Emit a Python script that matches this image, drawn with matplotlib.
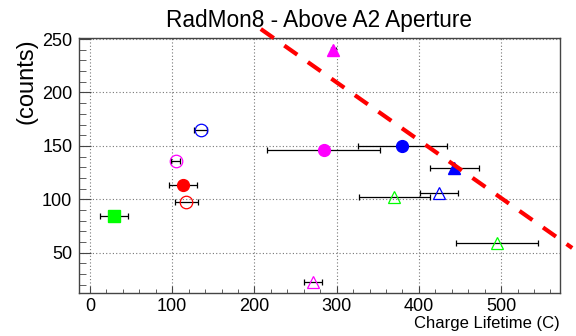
import numpy as np
import matplotlib
matplotlib.use('Agg')
import matplotlib.pyplot as plt
from matplotlib.ticker import MultipleLocator

plt.rcParams['font.family'] = ['Liberation Sans', 'DejaVu Sans']

# measurements: lifetime (C), lifetime error, counts
names   = ['green_sq', 'red_fc', 'red_oc', 'mag_oc', 'blue_oc', 'mag_fc', 'blue_fc',
           'mag_ft', 'blue_ft', 'blue_ot', 'green_ot1', 'green_ot2', 'mag_ot']
life    = [29, 113.5, 117, 104, 134.5, 284, 380, 296, 443, 424, 370, 494.5, 271.5]
life_err = [17, 17, 14, 6, 8, 69, 54, 3, 30, 23, 43, 50, 11]
counts  = [84, 113.5, 97, 135.5, 165, 146, 149.5, 240, 129, 106, 102, 59.5, 22.5]
markers = ['s', 'o', 'o', 'o', 'o', 'o', 'o', '^', '^', '^', '^', '^', '^']
colors  = ['#00ff00', '#ff0000', '#ff0000', '#ff00ff', '#0000ff', '#ff00ff', '#0000ff',
           '#ff00ff', '#0000ff', '#0000ff', '#00ff00', '#00ff00', '#ff00ff']
filled  = [True, True, False, False, False, True, True, True, True, False, False, False, False]

# dashed threshold line end points
line_x = [207.7, 586.4]
line_y = [259.4, 54.4]

fig = plt.figure(figsize=(5.76, 3.36), dpi=100)
ax = fig.add_axes([0.1363, 0.1265, 0.9714 - 0.1363, 0.8869 - 0.1265])

for i in range(len(life)):
    ax.errorbar(life[i], counts[i], xerr=life_err[i], fmt='none', ecolor='black',
                elinewidth=0.9, capsize=2.2, capthick=0.9, zorder=2)
    if filled[i]:
        ax.plot(life[i], counts[i], marker=markers[i], ms=8.5, color=colors[i],
                mec=colors[i], ls='none', zorder=3)
    else:
        ax.plot(life[i], counts[i], marker=markers[i], ms=9, mfc='none',
                mec=colors[i], mew=0.9, ls='none', zorder=3)

ax.plot(line_x, line_y, color='#ff0000', lw=3, dashes=(3.8, 3.1),
        solid_capstyle='butt', dash_capstyle='butt', clip_on=False, zorder=4)

ax.set_xlim(-14, 571)
ax.set_ylim(11.8, 251)

ax.xaxis.set_major_locator(MultipleLocator(100))
ax.xaxis.set_minor_locator(MultipleLocator(20))
ax.yaxis.set_major_locator(MultipleLocator(50))
ax.yaxis.set_minor_locator(MultipleLocator(10))

ax.grid(True, which='major', color='#777777', linestyle=(0, (1, 2)), lw=0.8)
ax.tick_params(axis='both', which='both', direction='in', top=False, right=False,
               labelsize=13, color='#444444')
ax.tick_params(axis='y', which='major', length=8.5, pad=4.5)
ax.tick_params(axis='y', which='minor', length=5)
ax.tick_params(axis='x', which='major', length=5, pad=3)
ax.tick_params(axis='x', which='minor', length=3)
for s in ax.spines.values():
    s.set_color('#444444')
    s.set_linewidth(1.0)

ax.set_title('RadMon8 - Above A2 Aperture', fontsize=16.3, pad=8)
ax.set_xlabel('Charge Lifetime (C)', fontsize=12, loc='right', labelpad=1)
ax.set_ylabel('(counts)', fontsize=17, loc='top', labelpad=3)

fig.savefig('out.png', dpi=100)
